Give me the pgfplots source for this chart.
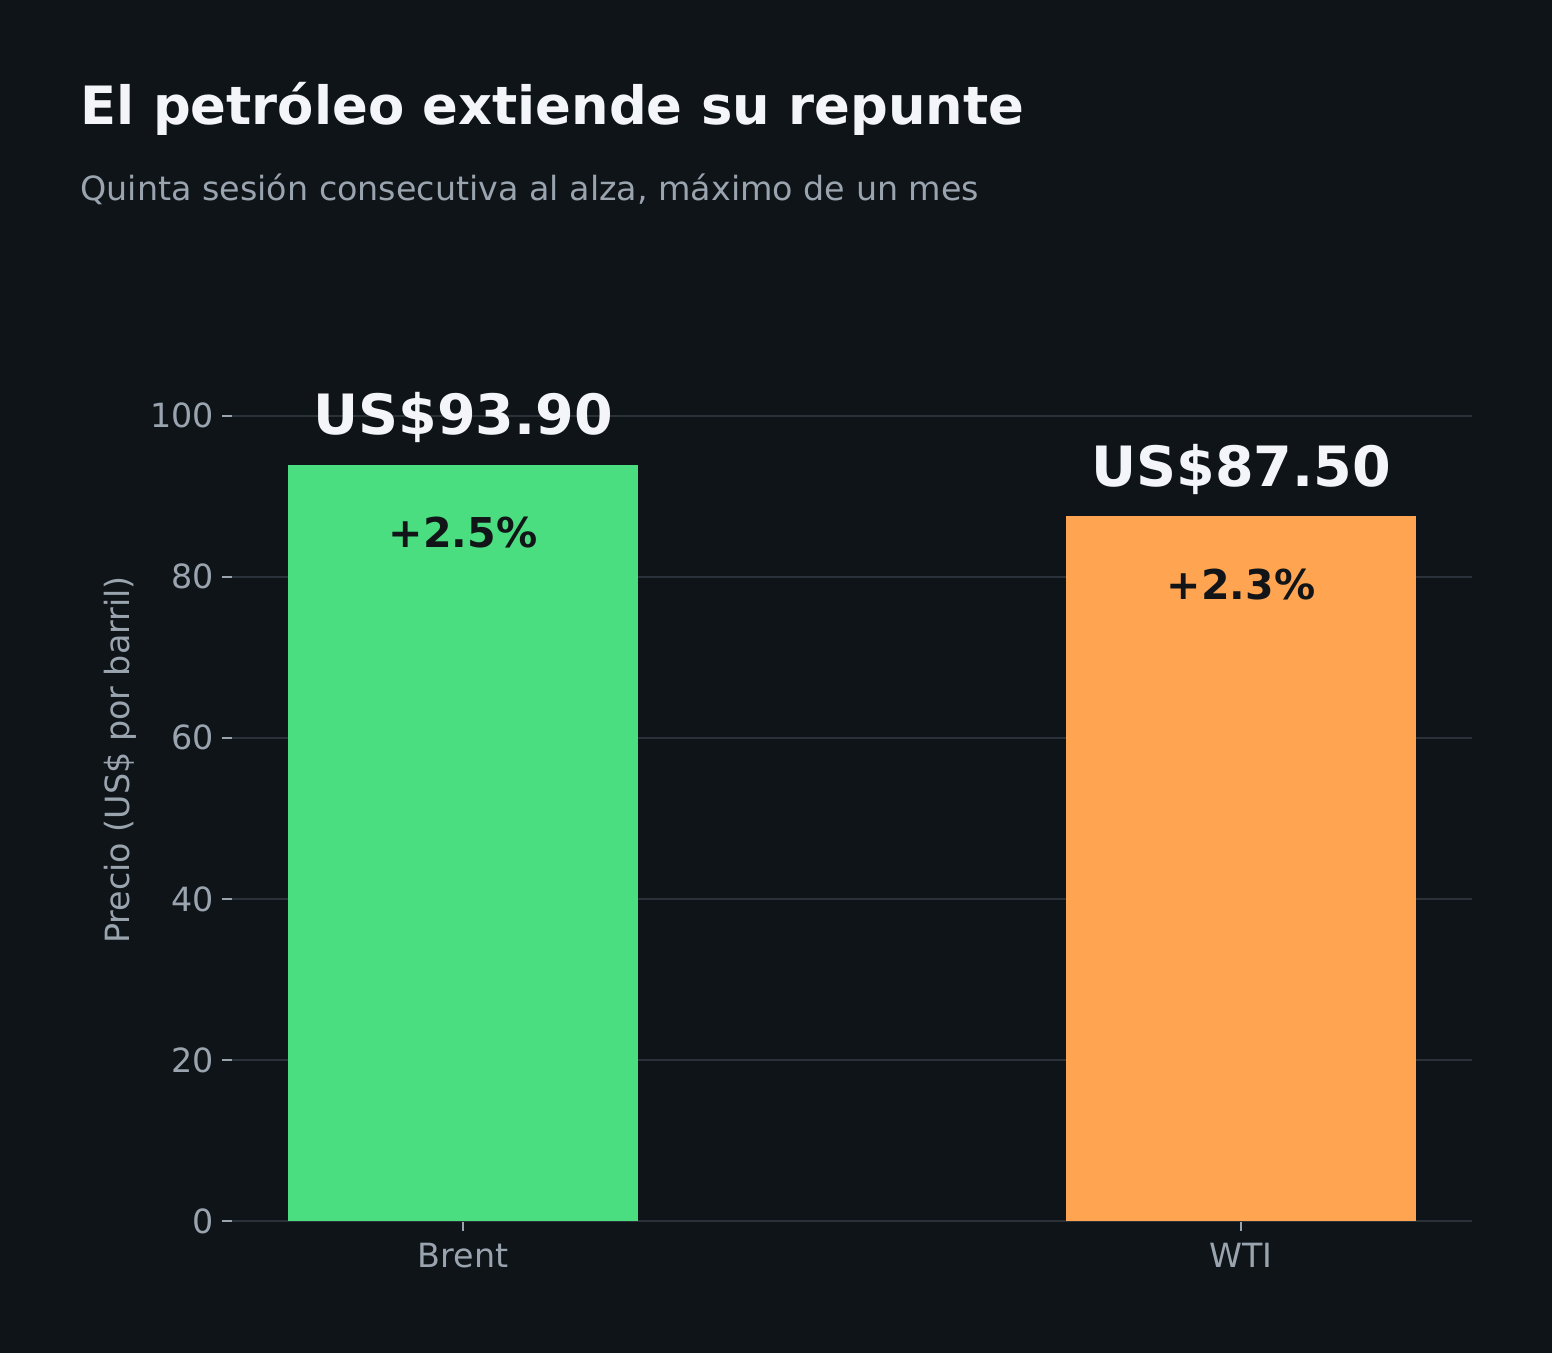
\documentclass[border=0pt]{standalone}
\usepackage{pgfplots}
\pgfplotsset{compat=1.18}
\usepackage{fontspec}
\setmainfont{DejaVu Sans}
\definecolor{bg}{HTML}{0F1419}
\definecolor{grn}{HTML}{4ADE80}
\definecolor{org}{HTML}{FFA552}
\definecolor{titlec}{HTML}{F3F5F8}
\definecolor{subc}{HTML}{9AA4AF}
\definecolor{gridc}{HTML}{2B3139}
\definecolor{darktxt}{HTML}{121518}
\begin{document}
\begin{tikzpicture}[x=0.36pt,y=0.36pt]
\fill[bg] (0,0) rectangle (1552,1353);
\useasboundingbox (0,0) rectangle (1552,1353);
\node[anchor=base west, inner sep=0, font=\bfseries\fontsize{19}{23}\selectfont, text=titlec] at (80,1228) {El petróleo extiende su repunte};
\node[anchor=base west, inner sep=0, font=\fontsize{12}{14}\selectfont, text=subc] at (80,1152) {Quinta sesión consecutiva al alza, máximo de un mes};
\node[rotate=90, anchor=center, inner sep=0, font=\fontsize{12}{14}\selectfont, text=subc] at (120,593) {Precio (US\$ por barril)};
\begin{axis}[
  at={(83.52pt,47.52pt)}, anchor=south west,
  scale only axis, width=446.4pt, height=331.92pt,
  xmin=-0.2969, xmax=1.2969, ymin=0, ymax=114.5,
  axis x line*=bottom, axis y line*=left,
  y axis line style={draw=none},
  x axis line style={gridc, line width=0.8pt},
  ytick={0,20,40,60,80,100},
  ymajorgrids, grid style={gridc, line width=0.8pt},
  xtick={0,1}, xticklabels={Brent,WTI},
  tick style={subc, line width=0.8pt}, major tick length=3.6pt, tick align=outside,
  ticklabel style={font=\fontsize{12}{14}\selectfont, text=subc},
  yticklabel style={xshift=0.7pt},
  xticklabel style={yshift=-0.7pt},
  /pgf/number format/assume math mode=true,
  ybar, bar width=0.45, bar shift=0pt,
]
\addplot[fill=grn, draw=none, bar shift=0pt] coordinates {(0,93.9)};
\addplot[fill=org, draw=none, bar shift=0pt] coordinates {(1,87.5)};
\node[anchor=base, inner sep=0, font=\bfseries\fontsize{20}{24}\selectfont, text=titlec, yshift=10.8pt] at (axis cs:0,93.9) {US\$93.90};
\node[anchor=base, inner sep=0, font=\bfseries\fontsize{20}{24}\selectfont, text=titlec, yshift=10.8pt] at (axis cs:1,87.5) {US\$87.50};
\node[anchor=base, inner sep=0, font=\bfseries\fontsize{14.8}{17}\selectfont, text=darktxt, yshift=-29.9pt] at (axis cs:0,93.9) {+2.5\%};
\node[anchor=base, inner sep=0, font=\bfseries\fontsize{14.8}{17}\selectfont, text=darktxt, yshift=-29.9pt] at (axis cs:1,87.5) {+2.3\%};
\end{axis}
\end{tikzpicture}
\end{document}
